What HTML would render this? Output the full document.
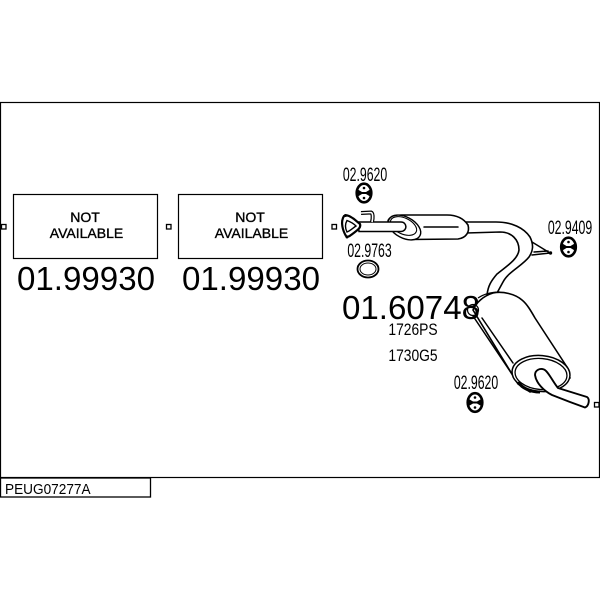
<!DOCTYPE html>
<html><head><meta charset="utf-8"><style>
html,body{margin:0;padding:0;background:#fff}
svg{display:block}
text{font-family:"Liberation Sans",sans-serif;fill:#000}
.p{fill:#fff;stroke:#000;stroke-width:1.6;stroke-linejoin:round}
.l{fill:none;stroke:#000;stroke-width:1.5;stroke-linecap:round;stroke-linejoin:round}
.s{fill:#fff;stroke:#000;stroke-width:1.3}
.n{font-size:14px;text-anchor:middle;stroke:#000;stroke-width:.35}
.b{font-size:33.1px;text-anchor:middle}
.t{font-size:19.5px;text-anchor:middle}
</style></head><body>
<svg width="600" height="600" viewBox="0 0 600 600" xmlns="http://www.w3.org/2000/svg">
<defs>
<g id="g">
<ellipse cx="0" cy="0" rx="7.300" ry="9.300" fill="#fff" stroke="#000" stroke-width="2.600"/>
<path d="M-7 -4 L-2 -1 L2 -1 L7 -4 L7 4 L2 1 L-2 1 L-7 4 Z" fill="#000"/>
<circle cx="0" cy="-5" r="1.300" fill="#000"/><circle cx="0" cy="5" r="1.300" fill="#000"/>
</g>
</defs>
<rect width="600" height="600" fill="#fff"/>
<rect x="0.5" y="102.5" width="599" height="375" fill="none" stroke="#000" stroke-width="1.2"/>
<rect x="0.5" y="478" width="150" height="19" fill="#fff" stroke="#000" stroke-width="1.3"/>
<text x="5" y="494" font-size="14.5" transform="translate(5 0) scale(.94 1) translate(-5 0)">PEUG07277A</text>

<rect x="13.5" y="194.5" width="144" height="64" fill="#fff" stroke="#000" stroke-width="1.2"/>
<rect x="178.500" y="194.5" width="144" height="64" fill="#fff" stroke="#000" stroke-width="1.2"/>
<text class="n" x="85" y="222">NOT</text><text class="n" x="86.500" y="238">AVAILABLE</text>
<text class="n" x="250" y="222">NOT</text><text class="n" x="251.500" y="238">AVAILABLE</text>
<text class="b" x="86" y="290">01.99930</text>
<text class="b" x="251" y="290">01.99930</text>
<rect class="s" x="1.5" y="224.5" width="4.5" height="4.5"/>
<rect class="s" x="166.5" y="224.5" width="4.5" height="4.5"/>
<rect class="s" x="332" y="224.5" width="4.5" height="4.5"/>
<rect class="s" x="594.5" y="402.5" width="4.5" height="4.5"/>

<!-- connecting pipe -->
<path class="p" d="M466 222 L496 222 C512 222 524 228 530 237 C534 245 533 251 529 257 C522 266 508 272 503 282 L497 293 L487 295 C488 286 491 281 497 274 C507 266 518 259 519 250 C519 240 512 232 500 232 L466 233 Z"/>
<path class="l" d="M532 242 L550 253 M532 255 L550 253 M534 252 L548 251"/>
<circle cx="550.500" cy="253" r="1.700" fill="#000"/>

<!-- front muffler -->
<path class="p" d="M402 215 L447 215 C458 215 464 219 468 225 C470 232 466 238 458 239 L410 239.500 C398 238 388 228 388 221 C389 217 395 215 402 215 Z"/>
<ellipse cx="404.500" cy="227.500" rx="17.500" ry="10.500" transform="rotate(28 404.500 227.500)" fill="#fff" stroke="#000" stroke-width="1.400"/>
<ellipse cx="403.500" cy="226" rx="14" ry="8" transform="rotate(25 403.500 226)" fill="#fff" stroke="#000" stroke-width="1.100"/>
<path d="M358 222 L401 222 C407 222 408 231 401 231.500 L359 231.500 Z" fill="#fff" stroke="#000" stroke-width="1.500"/>
<path class="l" d="M424 227 L458 227"/>
<!-- flange -->
<path d="M344 216 C347 214 351 217 354 219 L360 224 C361 227 359 229 355 232 C351 235 348 238 346 236 C343 231 340 222 344 216 Z" fill="#fff" stroke="#000" stroke-width="2.200"/>
<path d="M347 220.500 C351 222 354 224 356 226 C353 228 350 231 347 232 C345 228 345 224 347 220.500 Z" fill="#fff" stroke="#000" stroke-width="1.400"/>
<circle cx="345.500" cy="215.500" r="1.500" fill="#000"/><circle cx="347" cy="237" r="1.500" fill="#000"/>
<!-- sensor pipe -->
<path d="M361 213 L371 212.500 C373 213 373 218 372 222" fill="none" stroke="#000" stroke-width="4"/>
<path d="M361 213 L371 212.500 C373 213 373 218 372 222" fill="none" stroke="#fff" stroke-width="1.600"/>

<!-- rear muffler -->
<path class="p" d="M473 310 C476 303 483 296 493 293 C503 291 515 294 522 300 C527 304 531 311 535 318 L567 367 L570 378 L530 392 L518 384 Z"/>
<path class="l" d="M473 316 L518 383 M482 318 L513 363"/>
<circle cx="473" cy="310" r="5.500" fill="none" stroke="#000" stroke-width="1.200"/>
<path d="M478 298 C484 294 492 292 500 292" fill="none" stroke="#000" stroke-width="1.200"/>
<ellipse cx="541" cy="373.500" rx="29" ry="18" transform="rotate(5 541 373.500)" fill="#fff" stroke="#000" stroke-width="1.500"/>
<ellipse cx="541" cy="374" rx="26" ry="15.500" transform="rotate(5 541 374)" fill="#fff" stroke="#000" stroke-width="1.300"/>
<path d="M518 382 C522 388 530 392 540 392" fill="none" stroke="#000" stroke-width="3"/>
<!-- tail pipe -->
<path d="M535 375 C535 370 540 368 544 369.500 C548 371 553 382 558 388 L587 397 C590 399 589 406 585 407.500 L570 402 L552 395 C544 391 536 383 535 375 Z" fill="#fff" stroke="#000" stroke-width="1.900" stroke-linejoin="round"/>

<!-- labels -->
<text class="t" transform="translate(365 181) scale(.63 1)">02.9620</text>
<text class="t" transform="translate(369.500 257) scale(.63 1)">02.9763</text>
<text class="t" transform="translate(570 234) scale(.63 1)">02.9409</text>
<text class="t" transform="translate(476 389) scale(.63 1)">02.9620</text>
<text class="b" x="411" y="319">01.60748</text>
<text font-size="16.5" text-anchor="middle" transform="translate(413 335) scale(.84 1)">1726PS</text>
<text font-size="16.5" text-anchor="middle" transform="translate(413 361) scale(.84 1)">1730G5</text>

<!-- gaskets -->
<use href="#g" transform="translate(364 193)"/>
<use href="#g" transform="translate(568.500 247)"/>
<use href="#g" transform="translate(475 402.500)"/>
<g fill="none" stroke="#000">
<ellipse cx="368" cy="269" rx="10.500" ry="8.500" stroke-width="1.800"/>
<ellipse cx="368" cy="269" rx="8" ry="6" stroke-width="1"/>
</g>
</svg>
</body></html>
